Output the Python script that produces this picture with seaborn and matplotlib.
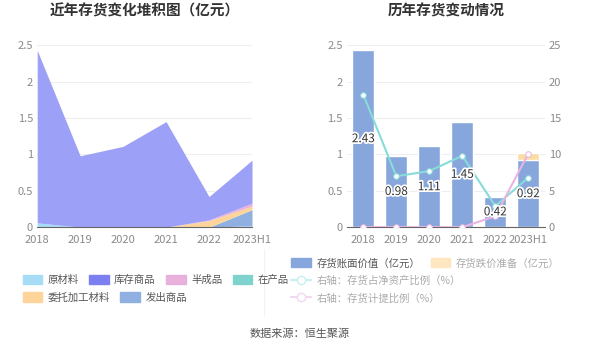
import numpy as np
import matplotlib
matplotlib.use('Agg')
import matplotlib.pyplot as plt
import matplotlib.patheffects as pe
from matplotlib.patches import Patch
from matplotlib.lines import Line2D
import seaborn as sns

years = ["2018", "2019", "2020", "2021", "2022", "2023H1"]

# 左图：存货构成（亿元）
yuancailiao = [0.06, 0.0, 0.0, 0.0, 0.0, 0.02]
fachu = [0.0, 0.0, 0.0, 0.0, 0.0, 0.22]
weituo = [0.0, 0.0, 0.0, 0.0, 0.09, 0.05]
banchengpin = [0.0, 0.0, 0.0, 0.0, 0.01, 0.04]
zaichanpin = [0.0, 0.0, 0.0, 0.0, 0.0, 0.0]
kucun = [2.37, 0.98, 1.11, 1.45, 0.32, 0.59]

# 右图
book_value = [2.43, 0.98, 1.11, 1.45, 0.42, 0.92]
impairment = [0.0, 0.0, 0.0, 0.0, 0.0, 0.10]
ratio_net_assets = [18.2, 7.0, 7.7, 9.8, 2.9, 6.8]
ratio_provision = [0.0, 0.0, 0.0, 0.0, 1.5, 10.1]

sns.set_theme(style="white")
plt.rcParams['font.family'] = ['Noto Sans CJK SC', 'DejaVu Sans']

c_yuan = "#a6dcf5"
c_kucun = "#7b7ff0"
c_ban = "#e9b0dc"
c_zai = "#7fd3cf"
c_wei = "#fdd59a"
c_fachu = "#8fb0e0"
c_bar = "#87a7dc"
c_imp = "#fbdca4"
c_line1 = "#86dcd8"
c_line2 = "#eab4e2"
tick_c = "#8a8a8a"

fig = plt.figure(figsize=(6, 3.5), dpi=100)

# ---- 左图
ax1 = fig.add_axes([0.062, 0.351, 0.358, 0.52])
x = np.arange(len(years))
ax1.stackplot(x, yuancailiao, fachu, weituo, banchengpin, zaichanpin, kucun,
              colors=[c_yuan, c_fachu, c_wei, c_ban, c_zai, "#9ca0f6"], linewidth=0)
ax1.set_xlim(0, len(years) - 1)
ax1.set_ylim(0, 2.5)
ax1.set_yticks([0, 0.5, 1, 1.5, 2, 2.5])
ax1.set_yticklabels(["0", "0.5", "1", "1.5", "2", "2.5"])
ax1.set_xticks(x)
ax1.set_xticklabels(years)
ax1.set_title("近年存货变化堆积图（亿元）", fontsize=10.5, fontweight="bold", color="#333333", pad=21)

# ---- 右图
ax2 = fig.add_axes([0.578, 0.351, 0.33, 0.52])
sns.barplot(x=years, y=[b + i for b, i in zip(book_value, impairment)], color=c_imp,
            width=0.66, ax=ax2, saturation=1)
sns.barplot(x=years, y=book_value, color=c_bar, width=0.66, ax=ax2, saturation=1)
ax2.set_ylim(0, 2.5)
ax2.set_yticks([0, 0.5, 1, 1.5, 2, 2.5])
ax2.set_yticklabels(["0", "0.5", "1", "1.5", "2", "2.5"])
ax2.set_xlim(-0.5, len(years) - 0.5)
ax2.set_title("历年存货变动情况", fontsize=10.5, fontweight="bold", color="#333333", pad=21)

ax3 = ax2.twinx()
sns.lineplot(x=x, y=ratio_net_assets, ax=ax3, color=c_line1, linewidth=1.5, marker="o",
             markersize=4, markerfacecolor="white", markeredgecolor=c_line1)
sns.lineplot(x=x, y=ratio_provision, ax=ax3, color=c_line2, linewidth=1.5, marker="o",
             markersize=4, markerfacecolor="white", markeredgecolor=c_line2)
ax3.set_ylim(0, 25)
ax3.set_yticks([0, 5, 10, 15, 20, 25])
ax3.set_xlim(-0.5, len(years) - 0.5)

# 数值标签放在折线之上
for i, v in enumerate(book_value):
    ax3.text(i, v / 2, f"{v:.2f}", ha="center", va="center", fontsize=8.5, color="#333333",
             transform=ax2.transData,
             path_effects=[pe.withStroke(linewidth=2.5, foreground="white")], zorder=6)

for ax in (ax1, ax2, ax3):
    for s in ax.spines.values():
        s.set_visible(False)
    ax.tick_params(axis="both", colors=tick_c, labelsize=8, length=0, pad=3)
    ax.set_xlabel("")
    ax.set_ylabel("")
for ax in (ax1, ax2):
    ax.spines["bottom"].set_visible(True)
    ax.spines["bottom"].set_color("#666666")
    ax.spines["bottom"].set_linewidth(0.8)
    ax.yaxis.grid(True, color="#eeeeee", linewidth=0.8)
    ax.set_axisbelow(True)
ax1.tick_params(axis="x", length=3, color="#666666")
ax2.tick_params(axis="x", length=3, color="#666666")

# ---- 图例
row1 = [Patch(color=c_yuan, label="原材料"), Patch(color=c_kucun, label="库存商品"),
        Patch(color=c_ban, label="半成品"), Patch(color=c_zai, label="在产品")]
row2 = [Patch(color=c_wei, label="委托加工材料"), Patch(color=c_fachu, label="发出商品")]
leg_kw = dict(frameon=False, fontsize=7.5, handlelength=1.9, handleheight=1.0,
              handletextpad=0.5, columnspacing=1.0, labelcolor="#555555")
fig.legend(handles=row1, ncol=4, loc="center left", bbox_to_anchor=(0.022, 0.2), **leg_kw)
fig.legend(handles=row2, ncol=2, loc="center left", bbox_to_anchor=(0.022, 0.15), **leg_kw)

rrow1 = [Patch(color=c_bar, label="存货账面价值（亿元）"), Patch(color="#fde6c0", label="存货跌价准备（亿元）")]
l1 = fig.legend(handles=rrow1, ncol=2, loc="center left", bbox_to_anchor=(0.47, 0.248), **leg_kw)
l1.get_texts()[0].set_color("#555555")
l1.get_texts()[1].set_color("#aaaaaa")
rrow2 = [Line2D([0], [0], color="#c8eeee", marker="o", markerfacecolor="white",
                markeredgecolor="#c8eeee", label="右轴：存货占净资产比例（%）")]
rrow3 = [Line2D([0], [0], color="#f2d8ee", marker="o", markerfacecolor="white",
                markeredgecolor="#f2d8ee", label="右轴：存货计提比例（%）")]
lk = dict(leg_kw)
lk["labelcolor"] = "#aaaaaa"
fig.legend(handles=rrow2, loc="center left", bbox_to_anchor=(0.47, 0.197), **lk)
fig.legend(handles=rrow3, loc="center left", bbox_to_anchor=(0.47, 0.148), **lk)

fig.add_artist(Line2D([0.44, 0.44], [0.1, 0.29], color="#f2f2f2", linewidth=0.8))

fig.text(0.5, 0.047, "数据来源：恒生聚源", ha="center", va="center", fontsize=8, color="#555555")

fig.savefig("out.png", dpi=100, facecolor="white")
